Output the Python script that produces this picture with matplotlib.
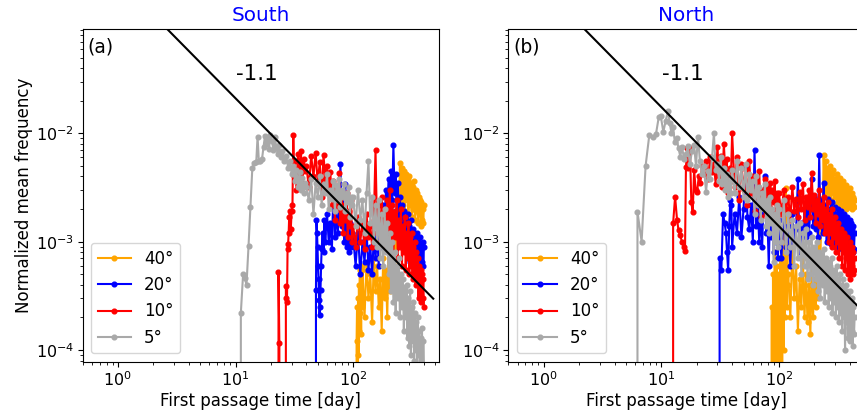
import numpy as np
import matplotlib
matplotlib.use('Agg')
import matplotlib.pyplot as plt

plt.rcParams['font.family'] = ['DejaVu Sans']
plt.rcParams['font.size'] = 12

labels = ['40°', '20°', '10°', '5°']
colors = ['orange', 'blue', 'red', 'darkgray']
titles = ['South', 'North']
panel_tags = ['(a)', '(b)']
slope_text = '-1.1'
slope = -1.1
line_coef = [0.265, 0.22]
line_x = [1.0, 480.0]

# ---------------- South (values in units of 1e-3) ----------------
# 40 deg
s40_hx = [106, 107, 108, 109, 110, 111, 112, 113, 114, 115, 116, 117, 118, 119]
s40_hy = [0, 0.12, 0.25, 0, 0.30, 0.09, 0.40, 0.15, 0.55, 0.22, 0.35, 0.14, 0.6, 0.25]
s40_mid = []
s40_late = [0.55, 0.2, 0.65, 0.3, 0.5, 0.18, 0.7, 0.35, 0.6, 0.25,
            0.45, 0.15, 0.7, 0.3, 0.55, 0.2, 0.8, 0.35, 1.0, 0.5,
            1.3, 0.6, 1.6, 0.9, 2.5, 1.5, 5.3, 2.0, 4.8, 2.2,
            4.5, 1.9, 4.2, 2.4, 3.8, 1.8, 4.0, 2.2, 3.5, 1.7,
            3.2, 2.0, 3.6, 1.6, 3.0, 1.9, 2.8, 1.5, 2.6, 1.8,
            2.4, 1.4, 2.3, 1.6, 2.0, 1.5, 2.2]
s40_late_start = 120
# 20 deg
s20_hx = [47.8, 48.3, 48.8, 49.3, 49.8, 50.3, 50.8, 51.3, 51.8, 52.3, 52.8, 53.4, 54, 55, 56, 57, 58, 59]
s20_hy = [0, 0.36, 1.58, 1.2, 0.9, 0.6, 0.45, 0.29, 0.21, 0.25, 0.36, 0.6, 0.85, 1.2, 0.8, 1.6, 1.0, 1.4]
s20_mid = [1.8, 1.0, 1.5, 0.85, 3.2, 1.1, 2.0, 1.2, 1.9, 5.2,
           1.4, 2.3, 1.0, 3.4, 0.9, 1.3, 0.8, 1.5, 0.9, 1.2]
s20_mid_start = 60
s20_late = [1.1, 0.6, 1.2, 0.5, 1.0, 0.65, 1.3, 0.55, 0.9, 0.5,
            1.1, 0.7, 1.2, 0.6, 1.6, 0.9, 2.2, 1.3, 3.0, 1.6,
            3.8, 2.0, 4.5, 2.4, 7.8, 2.8, 4.2, 1.6, 3.5, 1.4,
            2.6, 1.2, 2.2, 1.0, 1.9, 0.9, 1.5, 0.8, 1.8, 0.7,
            1.4, 0.65, 1.6, 0.8, 1.3, 0.6, 1.2, 0.7, 1.1, 0.55,
            1.2, 0.6, 1.0, 0.7, 1.1, 0.6, 0.9, 0.65, 1.0, 0.6, 0.9]
s20_late_start = 100
# 10 deg
s10_hx = [23.0, 23.2, 23.6, 24.0, 26.6, 26.8, 27.1, 27.4, 27.7, 28.0, 28.3, 28.6, 29.0,
          29.5, 30.0, 30.5, 31.0, 31.5, 32, 33, 34, 35, 36, 37, 38, 39]
s10_hy = [0, 0.52, 0.115, 0, 0, 0.39, 0.30, 0.28, 0.85, 0.95, 1.2, 1.7, 1.9,
          1.3, 1.9, 2.2, 9.6, 4.0, 5.5, 3.0, 6.5, 4.2, 6.8, 3.5, 5.8, 4.5]
s10_mid = [5.0, 3.2, 6.2, 4.0, 6.6, 3.5, 5.4, 2.6, 6.3, 3.8,
           5.0, 2.9, 4.4, 2.2, 3.6, 1.6, 3.0, 2.0, 4.3, 1.5,
           2.6, 1.2, 2.2, 1.6, 2.8, 1.1, 1.9, 1.4, 2.4, 1.0]
s10_mid_start = 40
s10_late = [1.4, 0.9, 1.7, 1.0, 1.5, 0.85, 1.8, 1.1, 1.4, 0.9,
            1.6, 7.0, 1.2, 2.2, 1.0, 2.6, 1.3, 2.0, 0.9, 2.4,
            1.2, 3.0, 1.0, 2.2, 0.8, 1.9, 1.1, 2.4, 0.7, 1.6,
            0.9, 2.0, 0.6, 1.4, 0.8, 1.7, 0.55, 1.2, 0.7, 1.5,
            0.5, 1.1, 0.6, 1.2, 0.45, 0.9, 0.5, 1.0, 0.4, 0.8,
            0.45, 0.7, 0.3, 0.6, 0.35, 0.55, 0.28, 0.5, 0.3, 0.45, 0.25]
s10_late_start = 100
# 5 deg
s5_hx = [10.9, 11.1, 11.6, 12.0, 12.4, 12.9, 13.4, 13.9, 14.5, 15.0, 15.4, 15.8, 16.3, 16.8,
         17.3, 17.8, 18.3, 18.8, 19.3, 19.8, 20.4, 21.0, 21.6, 22.2, 22.8, 23.5, 24.2,
         25, 26, 27, 28, 29, 30, 31, 32, 33, 34, 35, 36, 37, 38, 39]
s5_hy = [0, 0.22, 0.50, 0.46, 0.40, 0.91, 2.1, 4.8, 5.3, 5.4, 9.3, 5.5, 5.6, 5.8,
         7.5, 9.5, 8.0, 9.0, 7.2, 9.6, 8.5, 7.0, 9.3, 7.5, 6.5, 7.8, 6.0,
         6.8, 5.5, 6.2, 4.8, 5.6, 4.2, 5.0, 3.6, 4.6, 3.2, 4.4, 3.0, 3.9, 2.8, 3.5]
s5_mid = [3.2, 2.4, 3.8, 1.8, 3.5, 2.6, 4.0, 2.2, 3.4, 2.8,
          4.2, 2.0, 3.0, 2.5, 3.6, 1.9, 3.3, 2.4, 3.8, 2.1,
          3.0, 2.6, 3.4, 1.9, 2.8, 2.3, 3.2, 1.7, 2.6, 2.2]
s5_mid_start = 40
s5_late = [2.6, 1.4, 3.0, 1.6, 2.4, 1.2, 2.8, 5.5, 1.5, 2.6,
           1.0, 2.2, 0.9, 2.4, 0.7, 1.8, 0.6, 2.0, 0.8, 1.5,
           0.5, 1.2, 0.35, 1.0, 0.28, 0.8, 0.22, 0.6, 0.30, 0.7,
           0.20, 0.5, 0.25, 0.45, 0.15, 0.38, 0.20, 0.40, 0.13, 0.30,
           0.11, 0.35, 0.09, 0.25, 0.12, 0.28, 0.08, 0.22, 0.10, 0.18,
           0.07, 0.20, 0.09, 0.15, 0.06, 0.13, 0.08, 0.16, 0.05, 0.12, 0.07]
s5_late_start = 100

# ---------------- North (values in units of 1e-3) ----------------
n40_hx = [86, 87, 88, 89, 90, 91, 92, 93, 94, 95, 96, 97, 98, 99, 100, 101, 102,
          103, 104, 105, 106, 107, 108, 109, 110, 111, 112, 113, 114, 115, 116, 117, 118, 119]
n40_hy = [0, 0.25, 0, 0.5, 0.15, 0, 0.8, 0.2, 0.4, 0, 0.6, 0.12, 0.3, 0, 0.5, 0.2, 0,
          0.7, 0.15, 0.35, 0, 0.45, 1.8, 0.3, 0.1, 0.6, 0.2, 0.4, 3.1, 0.5, 0.25, 0.8, 2.4, 0.4]
n40_mid = []
n40_late = [0.5, 0.2, 0.9, 0.3, 0.6, 0.15, 0.45, 0.25, 0.7, 0.2,
            0.5, 0.18, 0.4, 0.14, 0.6, 0.2, 0.45, 0.25, 0.8, 0.3,
            1.2, 0.6, 2.5, 1.5, 6.3, 2.8, 5.5, 3.0, 4.8, 2.6,
            5.0, 2.4, 4.2, 2.8, 4.6, 2.2, 3.8, 2.6, 4.2, 2.1,
            3.6, 2.4, 3.9, 2.2, 3.4, 2.5, 3.6, 2.1, 3.2, 2.3,
            3.3, 2.0, 3.0, 2.4, 2.8, 2.1, 3.1, 2.2, 2.7, 2.0,
            2.8, 2.2, 2.6, 2.1, 2.4]
n40_late_start = 120
n20_hx = [30.8, 31.3, 32.4, 33.5, 34.5, 35.5, 36.2, 37.0, 37.8, 38.6, 39.4]
n20_hy = [0, 0.71, 0.55, 1.8, 1.5, 1.2, 0.8, 0.55, 1.4, 2.4, 2.2]
n20_mid = [0.9, 1.8, 1.2, 2.6, 1.1, 2.0, 4.9, 1.7, 1.3, 2.2,
           1.0, 7.0, 1.4, 2.2, 1.0, 1.8, 0.9, 2.4, 4.0, 1.2,
           1.5, 0.6, 2.0, 1.1, 1.8, 0.8, 1.6, 1.0, 1.4, 0.7]
n20_mid_start = 40
n20_late = [1.6, 0.7, 2.0, 0.9, 1.4, 0.6, 1.8, 1.0, 1.3, 3.8,
            0.8, 1.5, 0.9, 2.0, 1.1, 2.4, 1.2, 2.0, 3.8, 1.4,
            2.6, 1.3, 2.2, 1.1, 6.3, 1.5, 2.4, 1.2, 3.5, 1.3,
            2.2, 1.0, 2.5, 1.2, 2.0, 0.95, 2.3, 1.1, 1.9, 1.0,
            2.1, 0.9, 1.8, 1.1, 2.0, 0.9, 1.7, 1.0, 1.9, 0.85,
            1.6, 0.9, 1.8, 0.95, 1.5, 0.85, 1.7, 0.9, 1.4, 0.8,
            1.6, 0.85, 1.5, 0.9, 1.3, 0.8, 1.4, 0.85, 1.2]
n20_late_start = 100
n10_hx = [12.3, 12.6, 13.1, 13.6, 14.0, 14.4, 15.0, 15.5, 15.9, 16.2, 16.6, 17.0, 17.5,
          18.0, 18.5, 19.0, 19.6, 20.2, 20.8, 21.5, 22.2, 23, 24, 25, 26, 27, 28, 29,
          30, 31, 32, 33, 34, 35, 36, 37, 38, 39]
n10_hy = [0, 1.48, 2.6, 1.6, 1.28, 1.15, 1.0, 0.9, 0.82, 4.9, 7.3, 4.8, 7.3,
          2.3, 1.86, 4.6, 3.0, 2.9, 4.0, 3.5, 5.0, 4.2, 5.5, 3.8, 6.0, 4.4, 5.2, 3.4,
          7.5, 4.0, 6.2, 3.2, 8.0, 4.5, 5.8, 2.8, 4.8, 3.6]
n10_mid = [10.0, 3.2, 6.0, 2.4, 5.2, 3.0, 4.6, 2.2, 5.5, 2.8,
           4.0, 1.9, 3.6, 2.6, 4.5, 1.7, 3.0, 2.2, 3.8, 1.8,
           3.2, 2.4, 3.5, 2.0, 3.0, 2.3, 3.6, 1.9, 2.8, 2.2]
n10_mid_start = 40
n10_late = [2.8, 1.8, 3.0, 2.0, 2.6, 1.6, 3.2, 1.9, 2.5, 1.7,
            2.9, 2.0, 3.4, 1.6, 2.6, 2.1, 3.0, 1.7, 4.3, 2.0,
            2.7, 1.5, 2.4, 1.8, 3.0, 1.4, 2.2, 1.6, 2.6, 1.2,
            2.0, 1.3, 2.3, 1.0, 1.8, 1.2, 2.0, 0.9, 1.6, 1.1,
            1.7, 0.8, 1.4, 1.0, 1.5, 0.7, 1.2, 0.9, 1.3, 0.6,
            1.1, 0.8, 1.2, 0.55, 1.0, 0.7, 1.1, 0.5, 0.9, 0.65,
            1.0, 0.45, 0.85, 0.6, 0.9, 0.5, 0.8, 0.55, 0.7]
n10_late_start = 100
n5_hx = [5.9, 6.27, 6.8, 7.35, 7.9, 8.5, 9.0, 9.5, 9.9, 10.4, 10.9, 11.4, 11.8, 12.2,
         12.6, 13.0, 13.5, 14.0, 14.5, 15.0, 15.6, 16.2, 16.8, 17.5, 18.2, 19.0, 19.7,
         20.5, 21.3, 22.1, 23, 24, 25, 26, 27, 28, 29, 30, 31, 32, 33, 34, 35, 36, 37, 38, 39]
n5_hy = [0, 1.89, 1.0, 5.0, 9.6, 9.3, 9.8, 14.0, 14.4, 10.3, 13.1, 16.0, 12.4, 10.0,
         11.5, 8.4, 9.0, 7.3, 6.1, 7.5, 5.8, 6.4, 7.6, 5.2, 6.8, 7.8, 5.0,
         9.3, 5.5, 4.2, 5.0, 2.9, 4.5, 3.8, 6.0, 10.0, 4.6, 5.2, 3.6, 6.0, 3.4, 4.8, 3.0, 4.2, 2.6, 3.8, 2.8]
n5_mid = [4.6, 2.8, 5.6, 3.2, 4.8, 2.6, 5.2, 2.4, 4.2, 3.0,
          3.6, 1.8, 4.0, 2.2, 3.2, 1.6, 2.8, 2.0, 3.4, 1.4,
          2.4, 1.2, 2.6, 1.5, 2.0, 0.65, 1.8, 1.0, 2.2, 0.9]
n5_mid_start = 40
n5_late = [2.0, 1.0, 2.4, 0.8, 1.8, 0.9, 1.6, 0.6, 1.4, 0.7,
           1.5, 0.5, 1.2, 0.6, 1.3, 0.45, 1.0, 0.5, 1.1, 0.4,
           0.9, 0.45, 1.0, 0.35, 0.8, 0.3, 0.75, 0.4, 0.85, 0.28,
           0.7, 0.35, 0.65, 0.25, 0.6, 0.3, 0.7, 0.22, 0.55, 0.28,
           0.5, 0.2, 0.6, 0.25, 0.45, 0.18, 0.5, 0.22, 0.4, 0.15,
           0.45, 0.2, 0.38, 0.1, 0.4, 0.18, 0.35, 0.13, 0.3, 0.16,
           0.35, 0.12, 0.28, 0.15, 0.3, 0.11, 0.25, 0.14, 0.2]
n5_late_start = 100

MID_STEP = 2
LATE_STEP = 5


def build(hx, hy, mid, mid_start, late, late_start):
    xs = [np.asarray(hx, float)]
    ys = [np.asarray(hy, float)]
    if len(mid):
        xs.append(mid_start + MID_STEP * np.arange(len(mid)))
        ys.append(np.asarray(mid, float))
    xs.append(late_start + LATE_STEP * np.arange(len(late)))
    ys.append(np.asarray(late, float))
    return np.concatenate(xs), np.concatenate(ys) * 1e-3


south = [
    build(s40_hx, s40_hy, s40_mid, 0, s40_late, s40_late_start),
    build(s20_hx, s20_hy, s20_mid, s20_mid_start, s20_late, s20_late_start),
    build(s10_hx, s10_hy, s10_mid, s10_mid_start, s10_late, s10_late_start),
    build(s5_hx, s5_hy, s5_mid, s5_mid_start, s5_late, s5_late_start),
]
north = [
    build(n40_hx, n40_hy, n40_mid, 0, n40_late, n40_late_start),
    build(n20_hx, n20_hy, n20_mid, n20_mid_start, n20_late, n20_late_start),
    build(n10_hx, n10_hy, n10_mid, n10_mid_start, n10_late, n10_late_start),
    build(n5_hx, n5_hy, n5_mid, n5_mid_start, n5_late, n5_late_start),
]

W, H = 857, 412
fig = plt.figure(figsize=(W / 100, H / 100), dpi=100)
ax_s = fig.add_axes([82.5 / W, 50.3 / H, 356 / W, 332.4 / H])
ax_n = fig.add_axes([508.3 / W, 50.3 / H, 356 / W, 332.4 / H])

for k, (ax, data) in enumerate([(ax_s, south), (ax_n, north)]):
    for (x, y), lab, c in zip(data, labels, colors):
        ax.plot(x, y, '-o', color=c, lw=1.5, ms=3.4, label=lab)
    lx = np.array(line_x)
    ax.plot(lx, line_coef[k] * lx ** slope, color='black', lw=1.5)
    ax.set_xscale('log')
    ax.set_yscale('log')
    ax.set_xlim(0.5, 532)
    ax.set_ylim(7.8e-5, 0.0912)
    ax.set_title(titles[k], color='blue', fontsize=14.4, pad=6)
    ax.set_xlabel('First passage time [day]', fontsize=12, labelpad=2)
    ax.text(0.015, 0.975, panel_tags[k], transform=ax.transAxes,
            ha='left', va='top', fontsize=13.5)
    ax.text(0.49, 0.865, slope_text, transform=ax.transAxes,
            ha='center', va='center', fontsize=15.5)
    ax.tick_params(which='both', labelsize=11.5, pad=2.5)
    ax.legend(loc='lower left', fontsize=12)

ax_s.set_ylabel('Normalized mean frequency', fontsize=12, labelpad=2)

fig.savefig('out.png', dpi=100)
